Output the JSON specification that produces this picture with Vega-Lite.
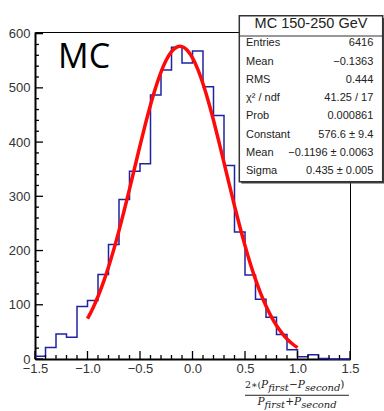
{
  "$schema": "https://vega.github.io/schema/vega-lite/v6.json",
  "width": 315,
  "height": 327,
  "autosize": "none",
  "padding": {"left": 35, "top": 32, "right": 34, "bottom": 52},
  "background": "white",
  "config": {"view": {"stroke": "#000", "strokeWidth": 1}},
  "datasets": {
    "hist": [
      {"x": -1.5, "n": 5}, {"x": -1.4, "n": 21}, {"x": -1.3, "n": 46}, {"x": -1.2, "n": 40},
      {"x": -1.1, "n": 97}, {"x": -1.0, "n": 108}, {"x": -0.9, "n": 156}, {"x": -0.8, "n": 211},
      {"x": -0.7, "n": 294}, {"x": -0.6, "n": 346}, {"x": -0.5, "n": 360}, {"x": -0.4, "n": 487},
      {"x": -0.3, "n": 533}, {"x": -0.2, "n": 575}, {"x": -0.1, "n": 546}, {"x": 0.0, "n": 568},
      {"x": 0.1, "n": 502}, {"x": 0.2, "n": 449}, {"x": 0.3, "n": 357}, {"x": 0.4, "n": 234},
      {"x": 0.5, "n": 155}, {"x": 0.6, "n": 110}, {"x": 0.7, "n": 77}, {"x": 0.8, "n": 45},
      {"x": 0.9, "n": 17}, {"x": 1.0, "n": 4}, {"x": 1.1, "n": 8}, {"x": 1.2, "n": 1},
      {"x": 1.3, "n": 0}, {"x": 1.4, "n": 0}, {"x": 1.5, "n": 0}
    ],
    "fit": [
      {"x": -1.0, "y": 74.4}, {"x": -0.95, "y": 93.3}, {"x": -0.9, "y": 115.3}, {"x": -0.85, "y": 140.8},
      {"x": -0.8, "y": 169.7}, {"x": -0.75, "y": 201.7}, {"x": -0.7, "y": 236.8}, {"x": -0.65, "y": 274.2},
      {"x": -0.6, "y": 313.3}, {"x": -0.55, "y": 353.4}, {"x": -0.5, "y": 393.4}, {"x": -0.45, "y": 432.2},
      {"x": -0.4, "y": 468.4}, {"x": -0.35, "y": 501.1}, {"x": -0.3, "y": 529.1}, {"x": -0.25, "y": 551.3},
      {"x": -0.2, "y": 566.8}, {"x": -0.15, "y": 575.2}, {"x": -0.12, "y": 576.6}, {"x": -0.1, "y": 576.0},
      {"x": -0.05, "y": 569.3}, {"x": 0.0, "y": 555.2}, {"x": 0.05, "y": 534.4}, {"x": 0.1, "y": 507.6},
      {"x": 0.15, "y": 475.8}, {"x": 0.2, "y": 440.2}, {"x": 0.25, "y": 401.9}, {"x": 0.3, "y": 362.1},
      {"x": 0.35, "y": 322.0}, {"x": 0.4, "y": 282.5}, {"x": 0.45, "y": 244.7}, {"x": 0.5, "y": 209.1},
      {"x": 0.55, "y": 176.3}, {"x": 0.6, "y": 146.8}, {"x": 0.65, "y": 120.6}, {"x": 0.7, "y": 97.7},
      {"x": 0.75, "y": 78.2}, {"x": 0.8, "y": 61.7}, {"x": 0.85, "y": 48.1}, {"x": 0.9, "y": 36.9},
      {"x": 0.95, "y": 28.1}, {"x": 1.0, "y": 21.0}
    ],
    "xmajor": [{"v": -1.5}, {"v": -1}, {"v": -0.5}, {"v": 0}, {"v": 0.5}, {"v": 1}, {"v": 1.5}],
    "xminor": [{"v": -1.4}, {"v": -1.3}, {"v": -1.2}, {"v": -1.1}, {"v": -0.9}, {"v": -0.8}, {"v": -0.7}, {"v": -0.6},
               {"v": -0.4}, {"v": -0.3}, {"v": -0.2}, {"v": -0.1}, {"v": 0.1}, {"v": 0.2}, {"v": 0.3}, {"v": 0.4},
               {"v": 0.6}, {"v": 0.7}, {"v": 0.8}, {"v": 0.9}, {"v": 1.1}, {"v": 1.2}, {"v": 1.3}, {"v": 1.4}],
    "ymajor": [{"v": 0}, {"v": 100}, {"v": 200}, {"v": 300}, {"v": 400}, {"v": 500}, {"v": 600}],
    "yminor": [{"v": 20}, {"v": 40}, {"v": 60}, {"v": 80}, {"v": 120}, {"v": 140}, {"v": 160}, {"v": 180},
               {"v": 220}, {"v": 240}, {"v": 260}, {"v": 280}, {"v": 320}, {"v": 340}, {"v": 360}, {"v": 380},
               {"v": 420}, {"v": 440}, {"v": 460}, {"v": 480}, {"v": 520}, {"v": 540}, {"v": 560}, {"v": 580}],
    "stats": [
      {"stat": "Entries", "label": "Entries", "value": "6416"},
      {"stat": "Mean", "label": "Mean", "value": "−0.1363"},
      {"stat": "RMS", "label": "RMS", "value": "0.444"},
      {"stat": "Chi2", "label": "χ² / ndf", "value": "41.25 / 17"},
      {"stat": "Prob", "label": "Prob", "value": "0.000861"},
      {"stat": "Constant", "label": "Constant", "value": "576.6 ± 9.4"},
      {"stat": "FitMean", "label": "Mean", "value": "−0.1196 ± 0.0063"},
      {"stat": "Sigma", "label": "Sigma", "value": "0.435 ± 0.005"}
    ]
  },
  "resolve": {"scale": {"y": "independent"}},
  "layer": [
    {
      "layer": [
        {
          "data": {"name": "hist"},
          "mark": {"type": "line", "interpolate": "step-after", "color": "#1f23a0", "strokeWidth": 1.5},
          "encoding": {
            "x": {
              "field": "x", "type": "quantitative",
              "scale": {"domain": [-1.5, 1.5], "nice": false, "zero": false},
              "axis": {
                "orient": "bottom",
                "values": [-1.5, -1, -0.5, 0, 0.5, 1, 1.5],
                "ticks": false,
                "title": null, "grid": false,
                "domainColor": "#000", "domainWidth": 2,
                "labelFont": "Liberation Sans", "labelFontSize": 13, "labelColor": "#333",
                "labelPadding": 3, "labelFlush": false, "labelOverlap": false
              }
            },
            "y": {
              "field": "n", "type": "quantitative",
              "scale": {"domain": [0, 603], "nice": false},
              "axis": {
                "orient": "left",
                "values": [0, 100, 200, 300, 400, 500, 600],
                "ticks": false,
                "title": null, "grid": false,
                "domainColor": "#000", "domainWidth": 2,
                "labelFont": "Liberation Sans", "labelFontSize": 13, "labelColor": "#333",
                "labelPadding": 5, "labelFlush": false, "labelOverlap": false
              }
            }
          }
        },
        {
          "data": {"name": "xmajor"},
          "mark": {"type": "tick", "orient": "vertical", "size": 8, "thickness": 1.3, "color": "#000", "opacity": 1},
          "encoding": {"x": {"field": "v", "type": "quantitative"}, "y": {"datum": 7.4}}
        },
        {
          "data": {"name": "xminor"},
          "mark": {"type": "tick", "orient": "vertical", "size": 4, "thickness": 1.3, "color": "#000", "opacity": 1},
          "encoding": {"x": {"field": "v", "type": "quantitative"}, "y": {"datum": 3.7}}
        },
        {
          "data": {"name": "ymajor"},
          "mark": {"type": "tick", "orient": "horizontal", "size": 8, "thickness": 1.3, "color": "#000", "opacity": 1},
          "encoding": {"y": {"field": "v", "type": "quantitative"}, "x": {"datum": -1.4619}}
        },
        {
          "data": {"name": "yminor"},
          "mark": {"type": "tick", "orient": "horizontal", "size": 4, "thickness": 1.3, "color": "#000", "opacity": 1},
          "encoding": {"y": {"field": "v", "type": "quantitative"}, "x": {"datum": -1.481}}
        },
        {
          "data": {"name": "fit"},
          "mark": {"type": "line", "interpolate": "monotone", "color": "#ff0a0a", "strokeWidth": 3.5},
          "encoding": {
            "x": {"field": "x", "type": "quantitative"},
            "y": {"field": "y", "type": "quantitative"}
          }
        },
        {
          "data": {"values": [{}]},
          "mark": {"type": "text", "text": "MC", "font": "Open Sans", "fontSize": 34, "align": "left", "baseline": "alphabetic", "color": "#000"},
          "encoding": {"x": {"datum": -1.28}, "y": {"datum": 536}}
        },
        {
          "data": {"values": [{}]},
          "mark": {"type": "rect", "fill": "#444", "stroke": null},
          "encoding": {"x": {"datum": 0.465}, "x2": {"datum": 1.83}, "y": {"datum": 629}, "y2": {"datum": 323.5}}
        },
        {
          "data": {"values": [{}]},
          "mark": {"type": "rect", "fill": "#fff", "stroke": "#333", "strokeWidth": 1.5},
          "encoding": {"x": {"datum": 0.4457}, "x2": {"datum": 1.8114}, "y": {"datum": 633}, "y2": {"datum": 327}}
        },
        {
          "data": {"values": [{}]},
          "mark": {"type": "rule", "color": "#333", "strokeWidth": 1.2},
          "encoding": {"x": {"datum": 0.4457}, "x2": {"datum": 1.8114}, "y": {"datum": 595.6}}
        },
        {
          "data": {"values": [{}]},
          "mark": {"type": "text", "text": "MC 150-250 GeV", "font": "Liberation Sans", "fontSize": 14.5, "align": "center", "baseline": "middle", "color": "#222"},
          "encoding": {"x": {"datum": 1.1286}, "y": {"datum": 617.2}}
        },
        {
          "data": {"values": [{}]},
          "mark": {"type": "text", "text": "2∗(", "font": "DejaVu Serif", "fontSize": 9.5, "align": "left", "baseline": "alphabetic", "color": "#222"},
          "encoding": {"x": {"datum": 0.5}, "y": {"datum": -53.5}}
        },
        {
          "data": {"values": [{}]},
          "mark": {"type": "text", "text": "P", "font": "DejaVu Serif", "fontStyle": "italic", "fontSize": 10.5, "align": "left", "baseline": "alphabetic", "color": "#222"},
          "encoding": {"x": {"datum": 0.6533}, "y": {"datum": -53.5}}
        },
        {
          "data": {"values": [{}]},
          "mark": {"type": "text", "text": "first", "font": "DejaVu Serif", "fontStyle": "italic", "fontSize": 10, "align": "left", "baseline": "alphabetic", "color": "#222"},
          "encoding": {"x": {"datum": 0.721}, "y": {"datum": -59}}
        },
        {
          "data": {"values": [{}]},
          "mark": {"type": "text", "text": "−P", "font": "DejaVu Serif", "fontStyle": "italic", "fontSize": 10.5, "align": "left", "baseline": "alphabetic", "color": "#222"},
          "encoding": {"x": {"datum": 0.919}, "y": {"datum": -53.5}}
        },
        {
          "data": {"values": [{}]},
          "mark": {"type": "text", "text": "second", "font": "DejaVu Serif", "fontStyle": "italic", "fontSize": 10, "align": "left", "baseline": "alphabetic", "color": "#222"},
          "encoding": {"x": {"datum": 1.0705}, "y": {"datum": -59}}
        },
        {
          "data": {"values": [{}]},
          "mark": {"type": "text", "text": ")", "font": "DejaVu Serif", "fontSize": 10.5, "align": "left", "baseline": "alphabetic", "color": "#222"},
          "encoding": {"x": {"datum": 1.4076}, "y": {"datum": -53.5}}
        },
        {
          "data": {"values": [{}]},
          "mark": {"type": "rule", "color": "#222", "strokeWidth": 1},
          "encoding": {"x": {"datum": 0.5}, "x2": {"datum": 1.49}, "y": {"datum": -66.9}}
        },
        {
          "data": {"values": [{}]},
          "mark": {"type": "text", "text": "P", "font": "DejaVu Serif", "fontStyle": "italic", "fontSize": 10.5, "align": "left", "baseline": "alphabetic", "color": "#222"},
          "encoding": {"x": {"datum": 0.6181}, "y": {"datum": -84.8}}
        },
        {
          "data": {"values": [{}]},
          "mark": {"type": "text", "text": "first", "font": "DejaVu Serif", "fontStyle": "italic", "fontSize": 10, "align": "left", "baseline": "alphabetic", "color": "#222"},
          "encoding": {"x": {"datum": 0.6857}, "y": {"datum": -90.4}}
        },
        {
          "data": {"values": [{}]},
          "mark": {"type": "text", "text": "+P", "font": "DejaVu Serif", "fontStyle": "italic", "fontSize": 10.5, "align": "left", "baseline": "alphabetic", "color": "#222"},
          "encoding": {"x": {"datum": 0.8838}, "y": {"datum": -84.8}}
        },
        {
          "data": {"values": [{}]},
          "mark": {"type": "text", "text": "second", "font": "DejaVu Serif", "fontStyle": "italic", "fontSize": 10, "align": "left", "baseline": "alphabetic", "color": "#222"},
          "encoding": {"x": {"datum": 1.0352}, "y": {"datum": -90.4}}
        }
      ]
    },
    {
      "data": {"name": "stats"},
      "layer": [
        {
          "mark": {"type": "text", "font": "Liberation Sans", "fontSize": 11, "align": "left", "baseline": "middle", "color": "#222"},
          "encoding": {
            "x": {"datum": 0.5095},
            "y": {"field": "stat", "type": "nominal", "axis": null,
                  "scale": {"type": "point", "domain": ["Entries", "Mean", "RMS", "Chi2", "Prob", "Constant", "FitMean", "Sigma"], "range": [11.3, 139], "padding": 0}},
            "text": {"field": "label"}
          }
        },
        {
          "mark": {"type": "text", "font": "Liberation Sans", "fontSize": 11, "align": "right", "baseline": "middle", "color": "#222"},
          "encoding": {
            "x": {"datum": 1.722},
            "y": {"field": "stat", "type": "nominal", "axis": null,
                  "scale": {"type": "point", "domain": ["Entries", "Mean", "RMS", "Chi2", "Prob", "Constant", "FitMean", "Sigma"], "range": [11.3, 139], "padding": 0}},
            "text": {"field": "value"}
          }
        }
      ]
    }
  ]
}
